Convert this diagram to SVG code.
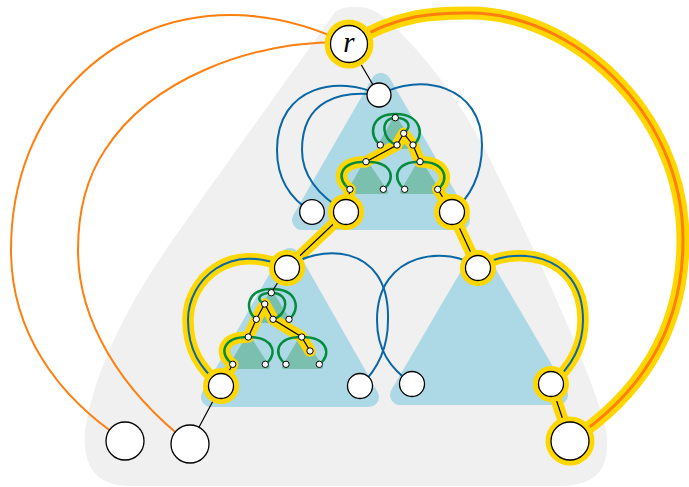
<svg xmlns="http://www.w3.org/2000/svg" width="689" height="487" viewBox="0 0 689 487">
<style>
.bg{fill:#f0f0f0}
.tri{fill:#add8e6;stroke:#add8e6;stroke-width:20;stroke-linejoin:round}
.teal{fill:#7bbfae;stroke:#7bbfae;stroke-width:4;stroke-linejoin:round}
.hl{fill:none;stroke:#ffd700;stroke-width:11.5;stroke-linecap:round;stroke-linejoin:round}
.hlw{fill:none;stroke:#ffd700;stroke-width:13;stroke-linecap:round}
.or{fill:none;stroke:#ff7f0e;stroke-width:2}
.orw{fill:none;stroke:#ff7f0e;stroke-width:3}
.bl{fill:none;stroke:#0a67a6;stroke-width:2}
.gr{fill:none;stroke:#008c3c;stroke-width:2.5}
.ed{fill:none;stroke:#000;stroke-width:1.2}
.halo{fill:#ffd700}
.n{fill:#fff;stroke:#000;stroke-width:1.3}
.s{fill:#fff;stroke:#000;stroke-width:1}
.lbl{font-family:"Liberation Serif","Times New Roman",serif;font-style:italic;font-size:29px;fill:#000}
</style>

<g id="background">
<path class="bg" d="M 335,12 C 345,5 365,5 378,13 C 400,28 460,90 500,180 C 540,260 595,380 606,430 C 611,465 600,486 560,486 L 130,486 C 95,486 82,465 85,430 C 95,370 125,310 167,248 C 225,165 300,62 335,12 Z"/>
</g>

<g id="regions">
<polygon class="tri" points="381,83 302,220 460,220"/>
<polygon class="tri" points="290,258 211,397 369,397"/>
<polygon class="tri" points="479,260 400,395 558,395"/>
<polygon class="teal" points="395.3,118 379,147 413,147"/>
<polygon class="teal" points="366,162 349,192 386,192"/>
<polygon class="teal" points="420,162 402,192 439,192"/>
<polygon class="teal" points="271.3,293 255,321 289,321"/>
<polygon class="teal" points="248.3,337 230,367 268,367"/>
<polygon class="teal" points="301.7,337 284,367 321,367"/>
</g>

<g id="connectors">
<path class="hlw" d="M 349,44 C 400,12 440,13 470,13 C 570,13 683,110 683,240 C 683,330 640,395 570,441"/>
<path class="hl" d="M 346,212 L 287,268 C 230,240 188,280 188,320 C 188,350 200,368 221,386"/>
<path class="hl" d="M 452,212 L 478,268 C 510,245 583,250 583,320 C 583,350 568,370 551,384 L 570,441"/>
<path class="hl" d="M 346,212 L 350,189.3 C 336,180 338,161.7 366,161.7 L 397,145 L 403.7,133.3 L 413,145 L 420,161.7 C 446,161.7 450,180 437.7,189.3 L 452,212"/>
<path class="hl" d="M 221,386 L 232.7,364.3 C 219,355 221,337 248.3,337 L 256.3,319.3 L 264.7,304 L 273,319.3 L 301.7,337 L 310,351"/>

<path class="or" d="M 349,44 C 300,20 260,15 230,15 C 110,15 11,110 11,250 C 11,330 55,395 125,441"/>
<path class="or" d="M 349,42 C 250,40 150,80 105,150 C 85,180 78,215 78,250 C 78,320 120,390 190,444"/>
<path class="orw" d="M 349,44 C 400,12 440,13 470,13 C 570,13 683,110 683,240 C 683,330 640,395 570,441"/>

<path class="bl" d="M 379,95 C 340,75 277,85 277,150 C 277,180 292,200 312,212"/>
<path class="bl" d="M 379,95 C 340,90 302,100 302,150 C 302,178 322,198 346,212"/>
<path class="bl" d="M 379,95 C 420,72 482,85 482,145 C 482,175 470,198 452,212"/>
<path class="bl" d="M 287,268 C 230,240 188,280 188,320 C 188,350 200,368 221,386"/>
<path class="bl" d="M 287,268 C 315,245 390,240 388,320 C 388,350 375,372 360,386"/>
<path class="bl" d="M 478,268 C 450,245 377,250 377,320 C 377,350 390,368 412,384"/>
<path class="bl" d="M 478,268 C 510,245 583,250 583,320 C 583,350 568,370 551,384"/>

<path class="gr" d="M 380.3,145 C 368,136 370,114 396,114 C 422,114 425,137 413,145"/>
<path class="gr" d="M 397,145 C 382,141 379,118 395.3,117.7 C 408,118 413,126 403.7,133.3"/>
<path class="gr" d="M 350,189.3 C 336,180 338,161.7 366,161.7 C 394,161.7 396,180 383.3,189.3"/>
<path class="gr" d="M 404.7,189.3 C 392,180 394,161.7 420,161.7 C 446,161.7 450,180 437.7,189.3"/>
<path class="gr" d="M 256.3,319.3 C 244,310 246,289 272,289 C 298,289 301,310 289,319.3"/>
<path class="gr" d="M 273,319.3 C 288,315 291,293 271.3,292.7 C 259,293 255,300 264.7,304"/>
<path class="gr" d="M 232.7,364.3 C 219,355 221,337 248.3,337 C 275,337 278,355 265.3,364.3"/>
<path class="gr" d="M 286,364.3 C 273,355 275,337 301.7,337 C 328,337 332,355 319.3,364.3"/>

<path class="ed" d="M 349,44 L 379,95"/>
<path class="ed" d="M 346,212 L 350,189.3"/>
<path class="ed" d="M 366,161.7 L 397,145 L 403.7,133.3 L 413,145 L 420,161.7"/>
<path class="ed" d="M 437.7,189.3 L 452,212"/>
<path class="ed" d="M 346,212 L 287,268"/>
<path class="ed" d="M 452,212 L 478,268"/>
<path class="ed" d="M 287,268 L 271.3,292.7"/>
<path class="ed" d="M 248.3,337 L 256.3,319.3 L 264.7,304 L 273,319.3 L 301.7,337 L 310,351"/>
<path class="ed" d="M 232.7,364.3 L 221,386 L 190,444"/>
<path class="ed" d="M 551,384 L 570,441"/>
</g>

<g id="node-r"><circle class="halo" cx="349" cy="44" r="24.5"/><circle class="n" cx="349" cy="44" r="18.5"/><text class="lbl" x="349" y="52" text-anchor="middle">r</text></g>
<g id="node-a"><circle class="n" cx="379" cy="95" r="12"/></g>
<g id="node-b1"><circle class="n" cx="312" cy="212" r="12.3"/></g>
<g id="node-b2"><circle class="halo" cx="346" cy="212" r="18"/><circle class="n" cx="346" cy="212" r="12.5"/></g>
<g id="node-b3"><circle class="halo" cx="452" cy="212" r="18"/><circle class="n" cx="452" cy="212" r="12.5"/></g>
<g id="node-c1"><circle class="halo" cx="287" cy="268" r="18"/><circle class="n" cx="287" cy="268" r="12.5"/></g>
<g id="node-c2"><circle class="halo" cx="478" cy="268" r="18"/><circle class="n" cx="478" cy="268" r="12.5"/></g>
<g id="node-d1"><circle class="halo" cx="221" cy="386" r="18"/><circle class="n" cx="221" cy="386" r="12.5"/></g>
<g id="node-d2"><circle class="n" cx="360" cy="386" r="12.5"/></g>
<g id="node-d3"><circle class="n" cx="412" cy="384" r="12.5"/></g>
<g id="node-d4"><circle class="halo" cx="551" cy="384" r="18"/><circle class="n" cx="551" cy="384" r="12.5"/></g>
<g id="node-e1"><circle class="n" cx="125" cy="441" r="19"/></g>
<g id="node-e2"><circle class="n" cx="190" cy="444" r="19"/></g>
<g id="node-e3"><circle class="halo" cx="570" cy="441" r="24.5"/><circle class="n" cx="570" cy="441" r="19"/></g>

<g id="node-t1"><circle class="s" cx="395.3" cy="117.7" r="3.2"/></g>
<g id="node-t2"><circle class="s" cx="403.7" cy="133.3" r="3.2"/></g>
<g id="node-t3"><circle class="s" cx="380.3" cy="145" r="3.2"/></g>
<g id="node-t4"><circle class="s" cx="397" cy="145" r="3.2"/></g>
<g id="node-t5"><circle class="s" cx="413" cy="145" r="3.2"/></g>
<g id="node-t6"><circle class="s" cx="366" cy="161.7" r="3.2"/></g>
<g id="node-t7"><circle class="s" cx="420" cy="161.7" r="3.2"/></g>
<g id="node-t8"><circle class="s" cx="350" cy="189.3" r="3.2"/></g>
<g id="node-t9"><circle class="s" cx="383.3" cy="189.3" r="3.2"/></g>
<g id="node-t10"><circle class="s" cx="404.7" cy="189.3" r="3.2"/></g>
<g id="node-t11"><circle class="s" cx="437.7" cy="189.3" r="3.2"/></g>

<g id="node-u1"><circle class="s" cx="271.3" cy="292.7" r="3.2"/></g>
<g id="node-u2"><circle class="s" cx="264.7" cy="304" r="3.2"/></g>
<g id="node-u3"><circle class="s" cx="256.3" cy="319.3" r="3.2"/></g>
<g id="node-u4"><circle class="s" cx="273" cy="319.3" r="3.2"/></g>
<g id="node-u5"><circle class="s" cx="289" cy="319.3" r="3.2"/></g>
<g id="node-u6"><circle class="s" cx="248.3" cy="337" r="3.2"/></g>
<g id="node-u7"><circle class="s" cx="301.7" cy="337" r="3.2"/></g>
<g id="node-u8"><circle class="s" cx="310" cy="351" r="3.2"/></g>
<g id="node-u9"><circle class="s" cx="232.7" cy="364.3" r="3.2"/></g>
<g id="node-u10"><circle class="s" cx="265.3" cy="364.3" r="3.2"/></g>
<g id="node-u11"><circle class="s" cx="286" cy="364.3" r="3.2"/></g>
<g id="node-u12"><circle class="s" cx="319.3" cy="364.3" r="3.2"/></g>
</svg>
